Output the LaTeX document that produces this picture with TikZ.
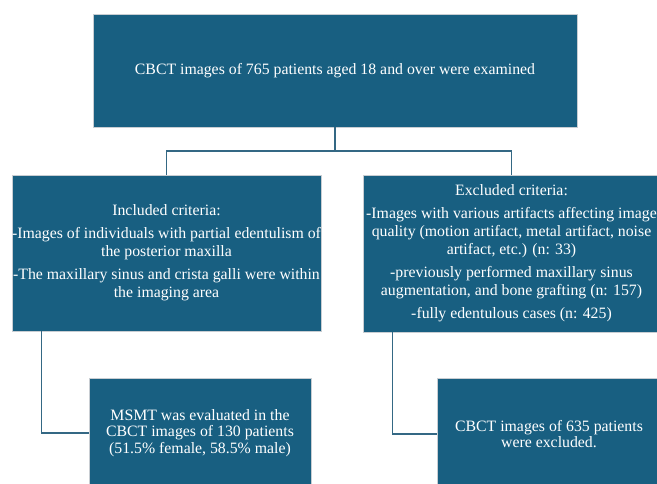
\documentclass[tikz,border=0pt]{standalone}
\usepackage{fontspec}
\setmainfont{Liberation Serif}
\usepackage{tikz}
\usetikzlibrary{positioning,calc}
\definecolor{boxblue}{RGB}{24,95,129}
\definecolor{edgegray}{RGB}{200,205,210}
\definecolor{linkblue}{RGB}{52,104,132}
\tikzset{
    box/.style={rectangle, fill=boxblue, draw=edgegray, line width=0.8pt, text=white,
        align=center, inner sep=0pt, font=\fontsize{15.8}{18}\selectfont},
    link/.style={draw=linkblue, line width=1.6pt}
}

\begin{document}
\begin{tikzpicture}[x=1pt,y=-1pt]
    \clip (0,0) rectangle (657,483);
    \node[box, minimum width=484pt, minimum height=113pt] (top) at (335,70.5)
        {CBCT images of 765 patients aged 18 and over were examined};
    \node[box, minimum width=309pt, minimum height=156pt] (incl) at (166.5,253)
        {Included criteria:\\[5pt]
         -Images of individuals with partial edentulism of\\ the posterior maxilla\\[5pt]
         -The maxillary sinus and crista galli were within\\ the imaging area};
    \node[box, minimum width=297pt, minimum height=157pt] (excl) at (511.5,253.5)
        {Excluded criteria:\\[5pt]
         -Images with various artifacts affecting image\\
         quality (motion artifact, metal artifact, noise\\ artifact, etc.) (n: 33)\\[5pt]
         -previously performed maxillary sinus\\ augmentation, and bone grafting (n: 157)\\[5pt]
         -fully edentulous cases (n: 425)};
    \node[box, minimum width=222pt, minimum height=110pt, font=\fontsize{15.8}{16.5}\selectfont] (msmt) at (200,433)
        {MSMT was evaluated in the\\ CBCT images of 130 patients\\ (51.5\% female, 58.5\% male)};
    \node[box, minimum width=224pt, minimum height=112pt, font=\fontsize{15.8}{16.5}\selectfont] (gone) at (549,434)
        {CBCT images of 635 patients\\ were excluded.};

    % tree lines
    \coordinate (hub) at (335,151);
    \draw[link] (top.south) -- (hub);
    \draw[link] (incl.north) |- (hub) -| (excl.north);
    \draw[link] ([xshift=30pt]incl.south west) |- (msmt.west);
    \draw[link] ([xshift=30pt]excl.south west) |- (gone.west);
\end{tikzpicture}
\end{document}
